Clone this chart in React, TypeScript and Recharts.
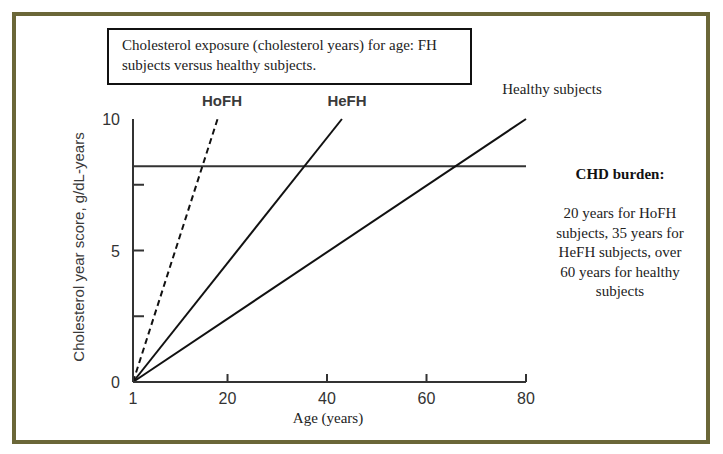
import React from 'react'
import { LineChart, Line, XAxis, YAxis, ReferenceLine } from 'recharts'

// ages (years) and cholesterol-year scores
const hofhAges = [1, 18]
const hofhScores = [0, 10]
const hefhAges = [1, 43]
const hefhScores = [0, 10]
const healthyAges = [1, 80]
const healthyScores = [0, 10]

const chdThreshold = 8.2

const xTicks = [1, 20, 40, 60, 80]
const yTicks = [0, 2.5, 5, 7.5, 10]
const yLabelled = [0, 5, 10]

const titleLines = [
  'Cholesterol exposure (cholesterol years) for age: FH',
  'subjects versus healthy subjects.',
]
const burdenLines = [
  '20 years for HoFH',
  'subjects, 35 years for',
  'HeFH subjects, over',
  '60 years for healthy',
  'subjects',
]

const toRows = (ages: number[], scores: number[]) =>
  ages.map((age, i) => ({ age, score: scores[i] }))

const SANS = '"Liberation Sans", Arial, sans-serif'
const SERIF = '"Liberation Serif", "Times New Roman", serif'
const INK = '#333'

function YTick(props: any) {
  const { x, y, payload } = props
  const v = payload.value
  return (
    <g>
      {yLabelled.includes(v) && (
        <text x={x} y={y} dy={6} textAnchor="end" fontSize={16} fontFamily={SANS} fill={INK}>
          {v}
        </text>
      )}
      {v !== 0 && v !== 10 && (
        <line x1={x + 13} x2={x + 24} y1={y} y2={y} stroke={INK} strokeWidth={2} />
      )}
    </g>
  )
}

function XTick(props: any) {
  const { x, y, payload } = props
  const v = payload.value
  return (
    <g>
      <text x={x} y={y + 12} textAnchor="middle" fontSize={16} fontFamily={SANS} fill={INK}>
        {v}
      </text>
      {v !== 1 && <line x1={x} x2={x} y1={y - 10} y2={y - 18} stroke={INK} strokeWidth={2} />}
    </g>
  )
}

const abs = (left: number, top: number): React.CSSProperties => ({
  position: 'absolute',
  left,
  top,
})

export default function App() {
  return (
    <div style={{ position: 'absolute', left: 0, top: 0, width: 723, height: 454, background: '#fff' }}>
      <div
        style={{
          ...abs(12, 12),
          width: 698,
          height: 432,
          boxSizing: 'border-box',
          border: '4px solid #6b6738',
        }}
      />
      <LineChart
        width={723}
        height={454}
        margin={{ top: 119, right: 197, bottom: 42, left: 73 }}
        style={{ position: 'absolute', left: 0, top: 0 }}
      >
        <XAxis
          type="number"
          dataKey="age"
          domain={[1, 80]}
          ticks={xTicks}
          height={30}
          tickSize={0}
          tickMargin={10}
          tickLine={false}
          tick={<XTick />}
          axisLine={{ stroke: INK, strokeWidth: 2 }}
          allowDuplicatedCategory={false}
        />
        <YAxis
          type="number"
          domain={[0, 10]}
          ticks={yTicks}
          width={60}
          tickSize={0}
          tickMargin={13}
          tickLine={false}
          tick={<YTick />}
          axisLine={{ stroke: INK, strokeWidth: 2 }}
        />
        <ReferenceLine y={chdThreshold} stroke={INK} strokeWidth={2} />
        <Line
          data={toRows(hofhAges, hofhScores)}
          dataKey="score"
          stroke="#111"
          strokeWidth={2}
          strokeDasharray="6 4"
          dot={false}
          isAnimationActive={false}
        />
        <Line
          data={toRows(hefhAges, hefhScores)}
          dataKey="score"
          stroke="#111"
          strokeWidth={2}
          dot={false}
          isAnimationActive={false}
        />
        <Line
          data={toRows(healthyAges, healthyScores)}
          dataKey="score"
          stroke="#111"
          strokeWidth={2}
          dot={false}
          isAnimationActive={false}
        />
      </LineChart>

      <div
        style={{
          ...abs(107, 28),
          width: 365,
          height: 57,
          boxSizing: 'border-box',
          border: '2px solid #111',
          padding: '5px 0 0 13px',
          fontFamily: SERIF,
          fontSize: 15,
          lineHeight: '20px',
          color: '#222',
        }}
      >
        {titleLines.map((t) => (
          <div key={t}>{t}</div>
        ))}
      </div>

      <div style={{ ...abs(182, 92), width: 80, textAlign: 'center', fontFamily: SANS, fontSize: 15, fontWeight: 'bold', color: '#3a3a3a' }}>
        HoFH
      </div>
      <div style={{ ...abs(307, 92), width: 80, textAlign: 'center', fontFamily: SANS, fontSize: 15, fontWeight: 'bold', color: '#3a3a3a' }}>
        HeFH
      </div>
      <div style={{ ...abs(492, 81), width: 120, textAlign: 'center', fontFamily: SERIF, fontSize: 15, color: '#222' }}>
        Healthy subjects
      </div>

      <div
        style={{
          ...abs(78, 247),
          transform: 'translate(-50%, -50%) rotate(-90deg)',
          whiteSpace: 'nowrap',
          fontFamily: SANS,
          fontSize: 15,
          color: '#3a3a3a',
        }}
      >
        Cholesterol year score, g/dL-years
      </div>

      <div style={{ ...abs(268, 410), width: 120, textAlign: 'center', fontFamily: SERIF, fontSize: 15, color: '#222' }}>
        Age (years)
      </div>

      <div style={{ ...abs(540, 166), width: 160, textAlign: 'center', fontFamily: SERIF, fontSize: 15, fontWeight: 'bold', color: '#111' }}>
        CHD burden:
      </div>
      <div
        style={{
          ...abs(540, 204),
          width: 160,
          textAlign: 'center',
          fontFamily: SERIF,
          fontSize: 15,
          lineHeight: '19.5px',
          color: '#222',
        }}
      >
        {burdenLines.map((t) => (
          <div key={t}>{t}</div>
        ))}
      </div>
    </div>
  )
}
